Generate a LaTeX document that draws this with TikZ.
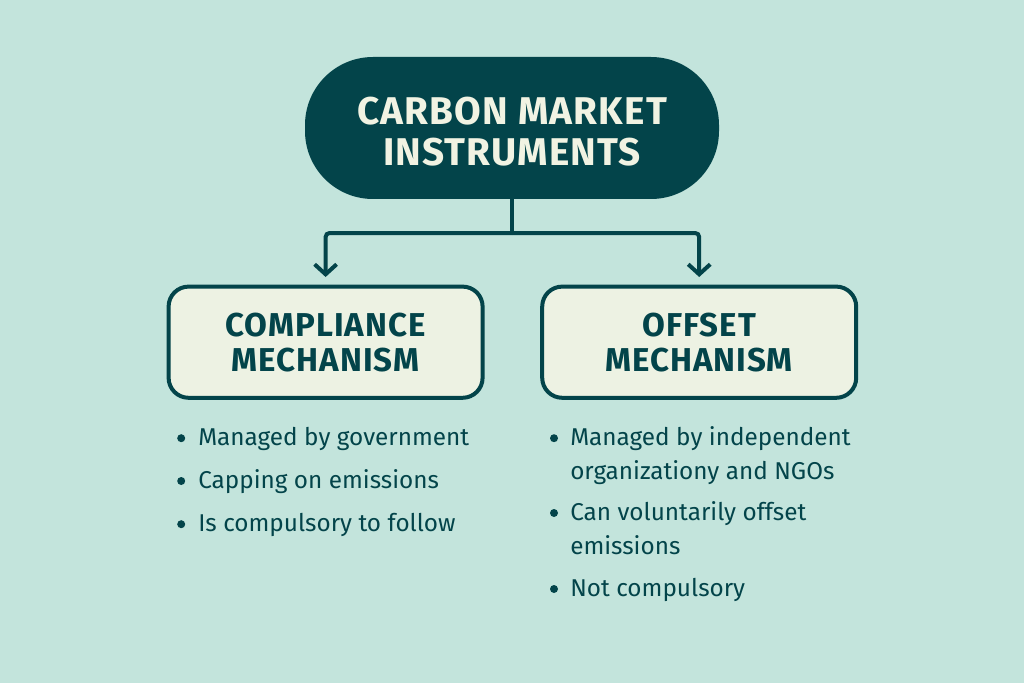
\documentclass[tikz,border=0pt]{standalone}
\usepackage{fontspec}
\setmainfont{Fira Sans}
\usetikzlibrary{arrows.meta}
\definecolor{pagebg}{HTML}{C3E4DC}
\definecolor{darkteal}{HTML}{03444A}
\definecolor{boxfill}{HTML}{EDF2E3}
\definecolor{titletext}{HTML}{F1F3E3}
\tikzset{
  titlebox/.style={fill=darkteal, text=titletext, rounded corners=1.7cm, minimum width=10.35cm,
    minimum height=3.55cm, align=center, font=\fontsize{27.5}{29}\selectfont\addfontfeature{LetterSpace=3}\bfseries},
  mechbox/.style={draw=darkteal, line width=1mm, fill=boxfill, text=darkteal, rounded corners=0.5cm,
    minimum width=7.85cm, minimum height=2.78cm, align=center,
    font=\fontsize{23.5}{25}\selectfont\addfontfeature{LetterSpace=3}\bfseries},
  linkline/.style={draw=darkteal, line width=1mm},
  linkarrow/.style={linkline, -{Straight Barb[length=2.5mm,width=5.5mm,line width=1mm]}, rounded corners=1mm},
  dotmark/.style={circle, fill=darkteal, inner sep=0pt, minimum size=0.2cm},
  itemtext/.style={anchor=base west, inner sep=0pt, text=darkteal, font=\fontsize{17.3}{20}\selectfont}
}
\begin{document}
\begin{tikzpicture}
  \fill [pagebg] (0,0) rectangle (25.6,17.075);
  \useasboundingbox (0,0) rectangle (25.6,17.075);
  % top and the two boxes
  \node [titlebox] (title) at (12.8,13.875) {\rule{0pt}{24.5pt}CARBON MARKET\\INSTRUMENTS};
  \node [mechbox] (comp) at (8.14,8.52) {COMPLIANCE\\MECHANISM};
  \node [mechbox] (offs) at (17.48,8.52) {OFFSET\\MECHANISM};
  % connectors
  \coordinate (split) at (12.8,11.25);
  \coordinate (compend) at (8.14,10.15);
  \coordinate (offsend) at (17.48,10.15);
  \draw [linkline] (title.south) -- (split);
  \draw [linkarrow] (split) -| (compend);
  \draw [linkarrow] (split) -| (offsend);
  % left list
  \node [dotmark] (dl1) at (4.53,6.12) {};
  \node [itemtext] (tl1) at (4.95,5.95) {Managed by government};
  \node [dotmark] (dl2) at (4.53,5.05) {};
  \node [itemtext] (tl2) at (4.95,4.87) {Capping on emissions};
  \node [dotmark] (dl3) at (4.53,3.97) {};
  \node [itemtext] (tl3) at (4.95,3.8) {Is compulsory to follow};
  % right list
  \node [dotmark] (dr1) at (13.85,6.12) {};
  \node [itemtext] (tr1) at (14.25,5.95) {Managed by independent};
  \node [itemtext] (tr2) at (14.25,5.1) {organizationy and NGOs};
  \node [dotmark] (dr3) at (13.85,4.25) {};
  \node [itemtext] (tr3) at (14.25,4.07) {Can voluntarily offset};
  \node [itemtext] (tr4) at (14.25,3.22) {emissions};
  \node [dotmark] (dr5) at (13.85,2.35) {};
  \node [itemtext] (tr5) at (14.25,2.17) {Not compulsory};
\end{tikzpicture}
\end{document}
